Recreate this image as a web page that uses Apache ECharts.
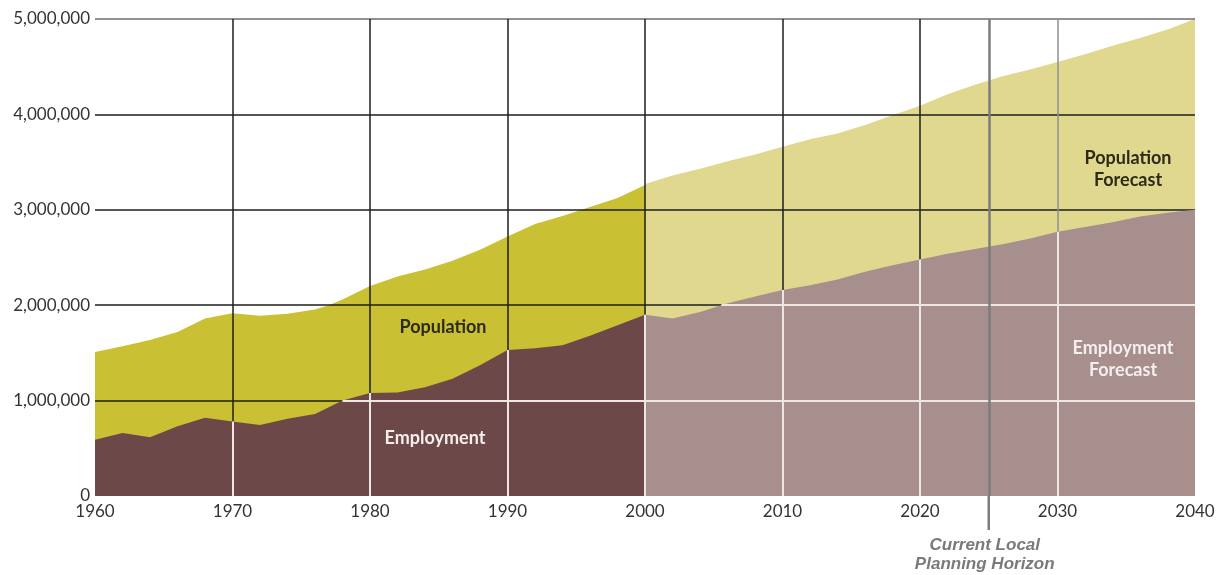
<!DOCTYPE html>
<html><head><meta charset="utf-8">
<script src="https://cdn.jsdelivr.net/npm/echarts@6/dist/echarts.min.js"></script>
<style>html,body{margin:0;padding:0;background:#fff}#c{width:1221px;height:575px}</style>
</head><body><div id="c"></div>
<script>
// ---- data ----
const histYears = [1960,1962,1964,1966,1968,1970,1972,1974,1976,1977,1978,1980,1982,1984,1986,1988,1990,1992,1994,1996,1998,2000];
const popHist   = [1510000,1570000,1635000,1720000,1860000,1915000,1890000,1910000,1955000,2000000,2060000,2200000,2300000,2375000,2465000,2580000,2720000,2850000,2935000,3030000,3125000,3260000];
const empHist   = [590000,660000,615000,730000,820000,780000,745000,810000,860000,930000,1000000,1080000,1085000,1140000,1230000,1370000,1530000,1550000,1580000,1680000,1790000,1900000];
const fcYears   = [2000,2002,2004,2006,2008,2010,2012,2014,2016,2018,2020,2022,2024,2026,2028,2030,2032,2034,2036,2038,2040];
const popFc     = [3270000,3360000,3430000,3510000,3580000,3660000,3740000,3800000,3890000,3990000,4090000,4210000,4310000,4400000,4470000,4550000,4630000,4720000,4800000,4890000,5000000];
const empFc     = [1900000,1860000,1930000,2020000,2090000,2160000,2210000,2270000,2350000,2420000,2480000,2540000,2590000,2640000,2700000,2770000,2820000,2870000,2930000,2970000,3000000];
const xTicks = [1960,1970,1980,1990,2000,2010,2020,2030,2040];
const yTicks = [0,1000000,2000000,3000000,4000000,5000000];
const horizonYear = 2025;
const labels = {
  pop: 'Population', emp: 'Employment',
  popFc: 'Population\nForecast', empFc: 'Employment\nForecast',
  horizon: 'Current Local\nPlanning Horizon'
};

// ---- helpers ----
const pairs = (xs, ys) => xs.map((x, i) => [x, ys[i]]);
const empAll = pairs(histYears, empHist).concat(pairs(fcYears, empFc).slice(1));
function empAt(x) {
  for (let i = 0; i < empAll.length - 1; i++) {
    const a = empAll[i], b = empAll[i + 1];
    if (x >= a[0] && x <= b[0]) return a[1] + (b[1] - a[1]) * (x - a[0]) / (b[0] - a[0]);
  }
  return empAll[empAll.length - 1][1];
}
function segmentsAbove(level) {
  const segs = []; let start = null;
  for (let i = 0; i < empAll.length; i++) {
    const p = empAll[i];
    if (p[1] >= level) {
      if (start === null) {
        if (i === 0) start = p[0];
        else { const q = empAll[i - 1]; start = q[0] + (p[0] - q[0]) * (level - q[1]) / (p[1] - q[1]); }
      }
    } else if (start !== null) {
      const q = empAll[i - 1]; const end = q[0] + (p[0] - q[0]) * (q[1] - level) / (q[1] - p[1]);
      segs.push([[start, level], [end, level]]); start = null;
    }
  }
  if (start !== null) segs.push([[start, level], [empAll[empAll.length - 1][0], level]]);
  return segs.filter(s => s[1][0] - s[0][0] > 0.05);
}
const whiteSegs = [];
xTicks.slice(1, -1).forEach(x => whiteSegs.push([[x, 0], [x, empAt(x)]]));
yTicks.slice(1, -1).forEach(y => segmentsAbove(y).forEach(s => whiteSegs.push(s)));

const chart = echarts.init(document.getElementById('c'));
const font = 'Lato, "Noto Sans", sans-serif';
chart.setOption({
  animation: false,
  backgroundColor: '#ffffff',
  grid: { left: 95, right: 26, top: 19, bottom: 79, containLabel: false },
  xAxis: {
    type: 'value', min: 1960, max: 2040, interval: 10, z: 3,
    axisLine: { show: false }, axisTick: { show: false },
    axisLabel: { color: '#333', fontFamily: font, fontSize: 17, margin: 7, formatter: v => String(v) },
    splitLine: { show: true, lineStyle: { width: 1.5, color: ['rgba(0,0,0,0)', '#1e1e1e', '#1e1e1e', '#1e1e1e', '#1e1e1e', '#1e1e1e', '#1e1e1e', '#8f8f8f', 'rgba(0,0,0,0)'] } }
  },
  yAxis: {
    type: 'value', min: 0, max: 5000000, interval: 1000000, z: 3,
    axisLine: { show: false }, axisTick: { show: false },
    axisLabel: { color: '#333', fontFamily: font, fontSize: 17, margin: 5,
      formatter: v => v.toLocaleString('en-US') },
    splitLine: { show: true, lineStyle: { width: 1.5, color: ['rgba(0,0,0,0)', '#1e1e1e', '#1e1e1e', '#1e1e1e', '#1e1e1e', '#6e6e6e'] } }
  },
  series: [
    { name: 'Population', type: 'line', z: 1, data: pairs(histYears, popHist), showSymbol: false, silent: true,
      lineStyle: { width: 0 }, areaStyle: { color: '#c9c033', opacity: 1 } },
    { name: 'Population Forecast', type: 'line', z: 1, data: pairs(fcYears, popFc), showSymbol: false, silent: true,
      lineStyle: { width: 0 }, areaStyle: { color: '#e0d88f', opacity: 1 } },
    { name: 'Employment', type: 'line', z: 4, data: pairs(histYears, empHist), showSymbol: false, silent: true,
      lineStyle: { width: 0 }, areaStyle: { color: '#6d4848', opacity: 1 } },
    { name: 'Employment Forecast', type: 'line', z: 4, data: pairs(fcYears, empFc), showSymbol: false, silent: true,
      lineStyle: { width: 0 }, areaStyle: { color: '#a78f8e', opacity: 1 } },
    { name: 'grid-white', type: 'lines', coordinateSystem: 'cartesian2d', z: 5, silent: true,
      lineStyle: { color: '#eee5e5', width: 2, opacity: 1 }, data: whiteSegs.map(s => ({ coords: s })) },
    { name: 'horizon', type: 'lines', coordinateSystem: 'cartesian2d', z: 6, silent: true,
      lineStyle: { color: '#7c7c7c', width: 2.5, opacity: 1 }, data: [{ coords: [[horizonYear, 0], [horizonYear, 5000000]] }] }
  ]
});

const p0 = chart.convertToPixel({ gridIndex: 0 }, [horizonYear, 0]);
const txt = (x, y, text, fill, extra) => Object.assign({
  type: 'text', z: 10, silent: true,
  style: { x, y, text, fill, font: 'bold 18px ' + font, textAlign: 'center', textVerticalAlign: 'middle', lineHeight: 22 }
}, extra || {});
chart.setOption({
  graphic: [
    { type: 'line', z: 10, silent: true, shape: { x1: p0[0], y1: p0[1], x2: p0[0], y2: p0[1] + 34 }, style: { stroke: '#7c7c7c', lineWidth: 2.5 } },
    txt(443, 327, labels.pop, '#2e2a18'),
    txt(435, 438, labels.emp, '#f4eeee'),
    txt(1128, 169, labels.popFc, '#2e2a18'),
    txt(1123, 359, labels.empFc, '#f4eeee'),
    { type: 'text', z: 10, silent: true,
      style: { x: p0[0] - 4, y: p0[1] + 59, text: labels.horizon, fill: '#7a7a7a',
        font: 'italic bold 17px "Liberation Sans", Arial, sans-serif', textAlign: 'center', textVerticalAlign: 'middle', lineHeight: 19 } }
  ]
});
</script>
</body></html>
